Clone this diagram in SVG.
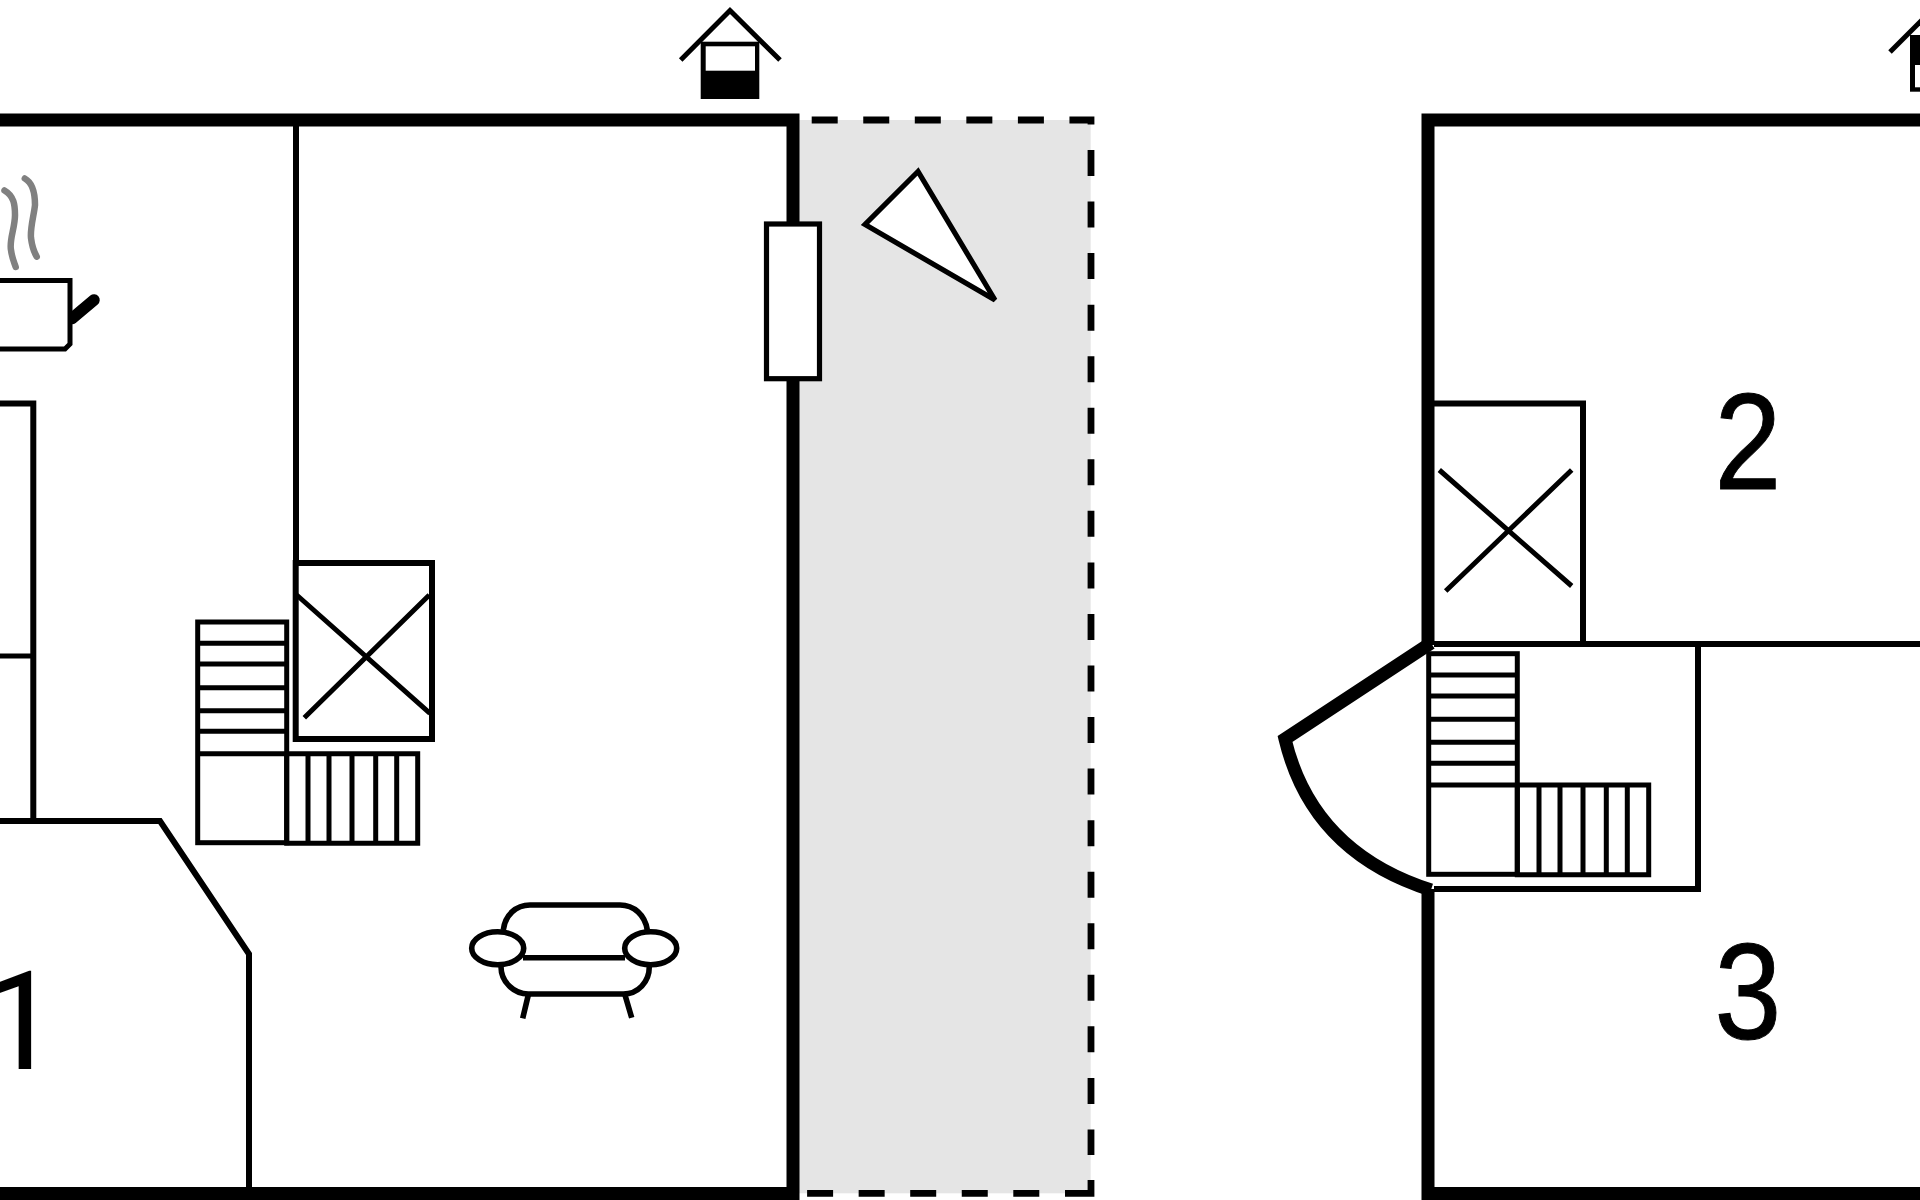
<svg xmlns="http://www.w3.org/2000/svg" width="1920" height="1200" viewBox="0 0 1920 1200">
<style>
.w{fill:none;stroke:#000;stroke-width:13;stroke-linejoin:miter}
.p{fill:none;stroke:#000;stroke-width:6}
.t{fill:none;stroke:#000;stroke-width:5}
.f{fill:none;stroke:#000;stroke-width:5.600}
.d{fill:none;stroke:#000;stroke-width:6.8}
.wf{fill:#fff;stroke:#000;stroke-width:5.200}
.s{fill:none;stroke:#808080;stroke-width:6.500;stroke-linecap:round}
.n{font-family:"Liberation Sans",Arial,sans-serif;font-size:138px;fill:#000;stroke:#000;stroke-width:1}
.r{font-family:Roboto,"Liberation Sans",sans-serif;font-size:138px;fill:#000}
</style>
<rect width="1920" height="1200" fill="#fff"/>
<g id="terrace">
<rect x="799" y="120" width="291.700" height="1073.300" fill="#e5e5e5"/>
<path class="d" d="M811.700 120H1091V1155" stroke-dasharray="26 25.550"/>
<path class="d" d="M1091 1180V1193.300H1065"/>
<path class="d" d="M1039.300 1193.300H807" stroke-dasharray="26 25.550"/>
</g>
<g id="walls-left">
<path class="w" d="M0 120H793V1200"/>
<path class="w" d="M0 1193.500H793"/>
<path class="p" d="M296 126V563"/>
<path class="p" d="M33.300 403.500H0M33.300 400.500V821"/>
<path class="t" d="M0 656H33"/>
<path class="p" d="M0 821H160L249 954V1187"/>
</g>
<g id="walls-right">
<path class="w" d="M1428 1200V889M1428 645V120H1920"/>
<path class="w" d="M1422 1193.500H1920"/>
<path class="p" d="M1434 644H1920"/>
<path class="p" d="M1434 403.500H1583V644"/>
<path class="p" d="M1698 644V889H1434"/>
</g>
<g id="door">
<path class="w" d="M1431 643L1285 739Q1312 852 1431 890"/>
</g>
<g id="window">
<rect class="wf" x="766.500" y="224" width="53" height="154.700"/>
</g>
<g id="triangle">
<polygon class="wf" stroke-miterlimit="3" points="918,171.500 865,224.500 995,300"/>
</g>
<g id="house-1">
<path d="M680.700 60L730 10.500L780 60" fill="none" stroke="#000" stroke-width="5"/>
<rect x="700.700" y="41.700" width="58.600" height="57.300" fill="#000"/>
<rect x="705.700" y="46.300" width="49.300" height="24.400" fill="#fff"/>
</g>
<g id="house-2">
<path d="M1890 52L1925 17" fill="none" stroke="#000" stroke-width="5"/>
<rect x="1910" y="35" width="12" height="56.700" fill="#000"/>
<rect x="1915" y="65" width="8" height="22.300" fill="#fff"/>
</g>
<g id="pot">
<path class="s" d="M4.500 190.500C14 196 15 205 15 215C15 228 9 240 11 250C12 258 14 262 15.700 267"/>
<path class="s" d="M24.800 178.500C33 183 35 195 35 205C34 215 30 228 31 238C32 246 34 252 36.700 256.700"/>
<path d="M72 318.500L94 300" fill="none" stroke="#000" stroke-width="11.500" stroke-linecap="round"/>
<rect x="0" y="280.500" width="70" height="68" fill="#fff"/>
<path class="t" d="M0 280.500H70V344L65 349H0"/>
</g>
<g id="closet-x-left">
<rect class="p" x="295.700" y="563" width="136.300" height="176" fill="#fff"/>
<path class="t" d="M296.700 595L430 713.300M429.300 595L304.300 717.700"/>
</g>
<g id="closet-x-right">
<path class="t" d="M1439.300 470L1571.700 586M1571.700 470L1445.700 591"/>
</g>
<g id="stairs-left">
<rect class="t" x="197.700" y="622" width="89" height="220.700"/>
<path class="t" d="M197.700 643.300H286.700M197.700 664H286.700M197.700 687.700H286.700M197.700 710.700H286.700M197.700 731.300H286.700M197.700 753.700H417.700V843.200H286.700V753.700M308 753.700V842.700M329 753.700V842.700M352 753.700V842.700M375.700 753.700V842.700M396.700 753.700V842.700"/>
</g>
<g id="stairs-right">
<rect class="t" x="1428.700" y="653.700" width="88.600" height="220.600"/>
<path class="t" d="M1428.700 675H1517.300M1428.700 696H1517.300M1428.700 719.300H1517.300M1428.700 742.300H1517.300M1428.700 763.300H1517.300M1428.700 785H1648.700V874.800H1517.300V785M1539 785V874.300M1560 785V874.300M1583 785V874.300M1606.300 785V874.300M1627.300 785V874.300"/>
</g>
<g id="sofa">
<path class="f" d="M503.300 930C505 915 516 905 530 905H620C634 905 645 915 647.300 930"/>
<path class="f" d="M523 957.700H625"/>
<path class="f" d="M501 966.700C501 982 514 994 528.300 994H623.300C638 994 649.300 982 649.300 966.700"/>
<ellipse class="f" cx="497.700" cy="948.300" rx="26" ry="16.500" style="fill:#fff"/>
<ellipse class="f" cx="650.700" cy="948.300" rx="26" ry="16.500" style="fill:#fff"/>
<path class="f" d="M528.300 995L522.700 1018.300M625 995L631.700 1017.700"/>
</g>
<g id="labels">
<text class="r" x="-18" y="1069">1</text>
<text class="n" transform="translate(1748 488.600) scale(.87 1)" text-anchor="middle">2</text>
<text class="n" transform="translate(1748 1039) scale(.87 1)" text-anchor="middle">3</text>
</g>
</svg>
